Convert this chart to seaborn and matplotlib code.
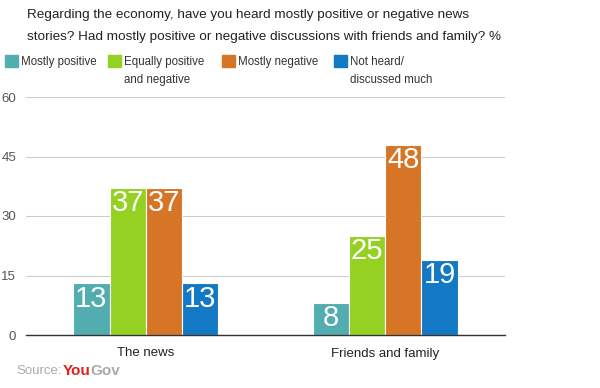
import matplotlib
matplotlib.use("Agg")
import matplotlib.pyplot as plt
import seaborn as sns
import pandas as pd
from matplotlib.patches import Rectangle

categories = ["The news", "Friends and family"]
series = ["Mostly positive", "Equally positive\nand negative", "Mostly negative", "Not heard/\ndiscussed much"]
mostly_positive = [13, 8]
equally = [37, 25]
mostly_negative = [37, 48]
not_heard = [13, 19]
yticks = [0, 15, 30, 45, 60]
colors = ["#51adb0", "#95d122", "#d77526", "#1479c5"]

rows = []
for s, vals in zip(series, [mostly_positive, equally, mostly_negative, not_heard]):
    for c, v in zip(categories, vals):
        rows.append({"cat": c, "series": s, "value": v})
df = pd.DataFrame(rows)

sns.set_style("white")
plt.rcParams["font.family"] = ["Liberation Sans", "DejaVu Sans"]

fig = plt.figure(figsize=(6, 3.88), dpi=100)
ax = fig.add_axes([26/600, 53/388, 479/600, 238/388])
sns.barplot(data=df, x="cat", y="value", hue="series", palette=colors,
            order=categories, hue_order=series, width=0.605, ax=ax,
            edgecolor="white", linewidth=0.8, legend=False, saturation=1)

ax.set_ylim(0, 60)
ax.set_xlim(-0.5, 1.5)
ax.set_yticks(yticks)
ax.set_yticklabels([str(t) for t in yticks], color="#555555", fontsize=9.5)
ax.yaxis.grid(True, color="#cccccc", linewidth=0.8)
ax.set_axisbelow(True)
ax.tick_params(axis="y", length=0, pad=7)
ax.tick_params(axis="x", length=0, pad=9, labelsize=9.5, labelcolor="#222222")
for sp in ["top", "right", "left"]:
    ax.spines[sp].set_visible(False)
ax.spines["bottom"].set_color("#333333")
ax.spines["bottom"].set_linewidth(1)
ax.set_xlabel("")
ax.set_ylabel("")

for cont in ax.containers:
    for bar in cont:
        h = bar.get_height()
        ax.text(bar.get_x() + bar.get_width()/2, h - 0.3, f"{int(h)}",
                ha="center", va="top", color="white", fontsize=21)

fig.text(27/600, 1 - 15/388, "Regarding the economy, have you heard mostly positive or negative news",
         fontsize=9.7, color="#222222", va="center", ha="left")
fig.text(27/600, 1 - 37/388, "stories? Had mostly positive or negative discussions with friends and family? %",
         fontsize=9.7, color="#222222", va="center", ha="left")

leg_x = [5, 108, 222, 334]
for x, s, col in zip(leg_x, series, colors):
    fig.patches.append(Rectangle((x/600, 1 - 67/388), 13/600, 12/388,
                                 transform=fig.transFigure, color=col))
    fig.text((x + 16)/600, 1 - 56/388, s, fontsize=8.3, color="#333333",
             va="top", ha="left", linespacing=1.65)

fig.canvas.draw()
r = fig.canvas.get_renderer()
t1 = fig.text(16/600, 1 - 371/388, "Source:", fontsize=9.5, color="#aaaaaa", va="center", ha="left")
bb = t1.get_window_extent(r)
t2 = fig.text((bb.x1 + 1)/600, 1 - 371/388, "You", fontsize=11, color="#e0201c", va="center",
              ha="left", fontweight="bold")
bb2 = t2.get_window_extent(r)
fig.text(bb2.x1/600, 1 - 371/388, "Gov", fontsize=11, color="#aaaaaa", va="center", ha="left",
         fontweight="bold")

fig.savefig("out.png", dpi=100)
